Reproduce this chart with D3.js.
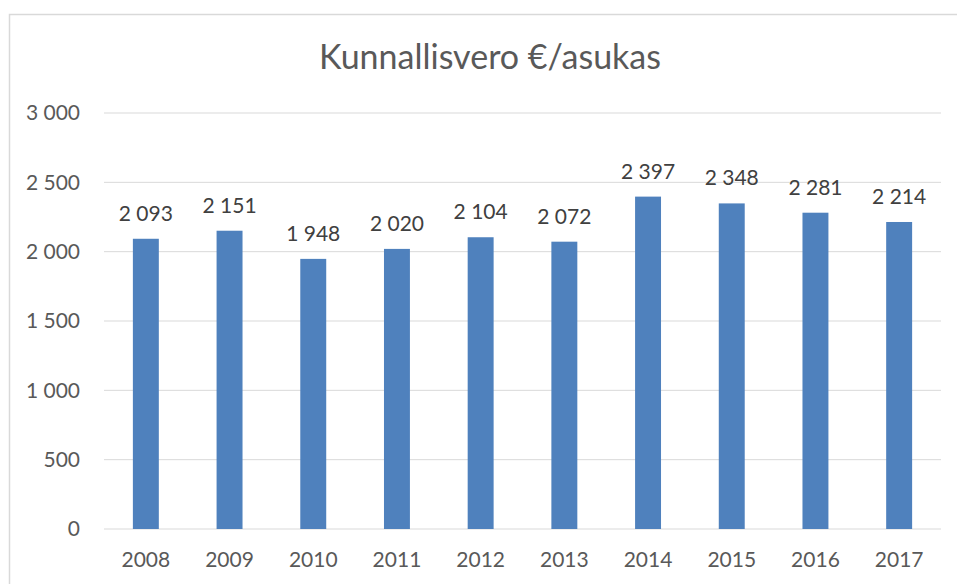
<!DOCTYPE html>
<html><head><meta charset="utf-8">
<script src="https://cdn.jsdelivr.net/npm/d3@7"></script>
<style>body{margin:0;background:#fff}svg{display:block}</style>
</head><body>
<svg id="c" width="957" height="584"></svg>
<script>
const categories = ["2008","2009","2010","2011","2012","2013","2014","2015","2016","2017"];
const values = [2093,2151,1948,2020,2104,2072,2397,2348,2281,2214];
const yTicks = [0,500,1000,1500,2000,2500,3000];
const title = "Kunnallisvero €/asukas";

const font = "Lato, 'Open Sans', sans-serif";
const fmt = v => d3.format(",")(v).replace(/,/g, " ");
const svg = d3.select("#c");
svg.append("rect").attr("x",9.5).attr("y",14.5).attr("width",960).attr("height",600)
  .attr("fill","#fff").attr("stroke","#d9d9d9").attr("stroke-width",1.5);

const x = d3.scaleBand().domain(categories).range([104,941]).paddingInner(0.69).paddingOuter(0.345);
const y = d3.scaleLinear().domain([0,3000]).range([529,113]);

const g = svg.append("g");
g.selectAll("line.grid").data(yTicks).join("line").attr("class","grid")
  .attr("x1",104).attr("x2",941).attr("y1",d=>y(d)).attr("y2",d=>y(d))
  .attr("stroke","#d9d9d9").attr("stroke-width",1);

const yAxis = d3.axisLeft(y).tickValues(yTicks).tickFormat(fmt).tickSize(0).tickPadding(0);
svg.append("g").attr("transform","translate(80,0)").call(yAxis)
  .call(a=>a.select(".domain").remove())
  .call(a=>a.selectAll("text").attr("fill","#595959").style("font-family",font).style("font-size","21px"));

g.selectAll("rect.bar").data(values).join("rect").attr("class","bar")
  .attr("x",(d,i)=>x(categories[i])).attr("width",x.bandwidth())
  .attr("y",d=>y(d)).attr("height",d=>y(0)-y(d)).attr("fill","#4f81bd");

g.selectAll("text.lbl").data(values).join("text").attr("class","lbl")
  .attr("x",(d,i)=>x(categories[i])+x.bandwidth()/2).attr("y",d=>y(d)-18)
  .attr("text-anchor","middle").attr("fill","#404040")
  .style("font-family",font).style("font-size","21px").text(fmt);

const xAxis = d3.axisBottom(x).tickSize(0).tickPadding(0);
svg.append("g").attr("transform","translate(0,529)").call(xAxis)
  .call(a=>a.select(".domain").remove())
  .call(a=>a.selectAll("text").attr("dy",null).attr("y",38).attr("fill","#595959").style("font-family",font).style("font-size","21px"));

svg.append("text").attr("x",490).attr("y",69).attr("text-anchor","middle")
  .attr("fill","#595959").style("font-family",font).style("font-size","34px").text(title);
</script>
</body></html>
